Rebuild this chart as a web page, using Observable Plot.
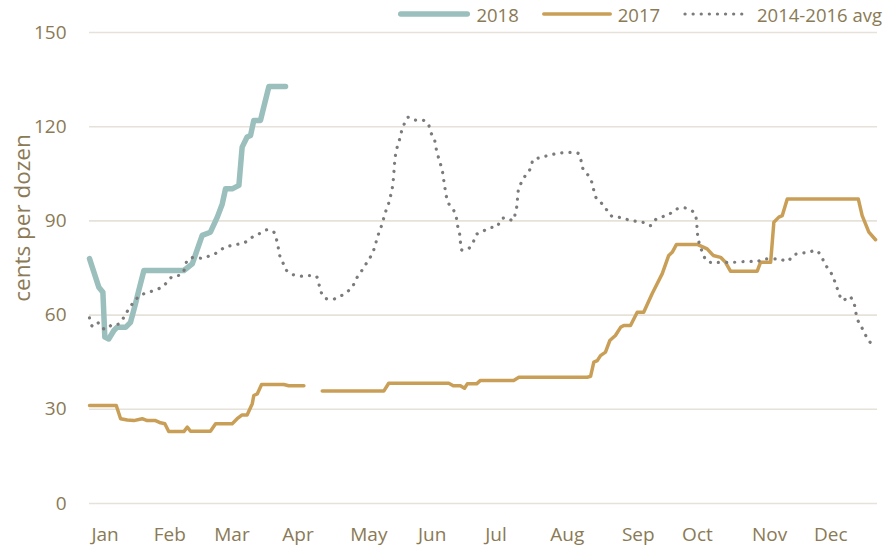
<!DOCTYPE html>
<html>
<head>
<meta charset="utf-8">
<script src="https://cdn.jsdelivr.net/npm/d3@7"></script>
<script src="https://cdn.jsdelivr.net/npm/@observablehq/plot@0.6"></script>
<style>
  html, body { margin: 0; padding: 0; background: #fff; }
  #wrap { width: 885px; font-family: "Open Sans", sans-serif; color: #8a7a55; }
  #legend { height: 28px; display: flex; justify-content: flex-end; align-items: center; padding-right: 3px; font-size: 18.5px; position: relative; z-index: 1; }
  .item { display: flex; align-items: center; margin-left: 23px; }
  .item svg { margin-right: 6px; }
  #chart svg { overflow: visible; }
</style>
</head>
<body>
<div id="wrap">
  <div id="legend"></div>
  <div id="chart"></div>
</div>
<script>
// ---- data (day of year, cents per dozen) ----
const months = ["Jan","Feb","Mar","Apr","May","Jun","Jul","Aug","Sep","Oct","Nov","Dec"];
const monthTickDays = [7.2, 37.2, 66.0, 96.6, 129.4, 158.7, 188.3, 221.3, 254.2, 281.6, 315.0, 343.4];
const yTicks = [0, 30, 60, 90, 120, 150];

const seriesNames = ["2018", "2017", "2014-2016 avg"];

const day2018 = [0, 4.3, 6.2, 7.1, 8.9, 11.3, 12.8, 16.7, 19.0, 21.3, 22.8, 25.2, 43.7, 47.6, 52.2, 56.0, 59.2, 61.5, 63.0, 66.1, 69.2, 70.7, 73.0, 74.6, 76.1, 79.2, 80.7, 83.1, 90.8];
const val2018 = [78, 68.9, 67.3, 53, 52.4, 55.1, 56.1, 56.1, 57.7, 63.6, 67.8, 74.2, 74.2, 76.3, 85.4, 86.4, 91.2, 95.4, 100.2, 100.2, 101.3, 113.5, 116.7, 117.2, 122, 122, 126.2, 132.8, 132.8];

const day2017 = [0, 12.4, 14.4, 17.5, 20.5, 24.4, 26.7, 30.6, 32.9, 34.9, 36.7, 43.7, 45.3, 46.8, 56.0, 58.4, 66.1, 68.4, 70.7, 73.0, 75.4, 76.1, 77.7, 79.7, 90.0, 92.3, 99.3,
  103.5,
  107.8, 136.3, 138.6, 166.4, 168.5, 171.8, 173.7, 175.0, 179.3, 181.1, 196.5, 198.9, 230.5, 232.1, 233.6, 235.2, 236.7, 239.0, 241.0, 243.6, 246.0, 247.5, 250.6, 253.7, 256.7, 260.6, 265.3, 268.3, 269.9, 271.9, 281.5, 286.1, 288.9, 292.3, 294.6, 296.9, 309.3, 310.8, 315.5, 317.0, 319.3, 320.9, 323.2, 356.1, 357.9, 361.0, 364.1];
const val2017 = [31.2, 31.2, 27.0, 26.6, 26.4, 27, 26.4, 26.4, 25.7, 25.4, 22.9, 22.9, 24.3, 23, 23, 25.4, 25.4, 27, 28.2, 28.2, 31.8, 34.4, 34.9, 37.9, 37.9, 37.5, 37.5,
  null,
  35.8, 35.8, 38.3, 38.3, 37.5, 37.5, 36.7, 38.1, 38.1, 39.2, 39.2, 40.2, 40.2, 40.5, 45, 45.5, 47.1, 48.2, 51.9, 53.5, 56.1, 56.7, 56.7, 60.9, 60.9, 66.8, 73.2, 79, 80, 82.5, 82.5, 81.1, 79, 78.4, 76.8, 74, 74, 76.8, 76.8, 89.6, 91.2, 91.7, 97, 97, 91.7, 86.4, 84];

const dayAvg = [0, 1.3, 3.6, 5.4, 7.9, 10.5, 13.6, 16.4, 18.2, 20.5, 22.8, 25.9, 29.8, 33.4, 36.0, 38.6, 42.2, 44.1, 45.3, 48.3, 52.2, 56.0, 59.4, 62.7, 66.1, 69.5, 72.7, 75.8, 79.2, 82.3, 85.4, 86.6, 87.4, 88.1, 89.7, 91.3, 94.2, 98.1, 101.6, 105.0, 106.2, 107.3, 108.9, 112.4, 115.8, 118.9, 121.7, 123.2, 125.5, 127.5, 129.6, 131.4, 132.5, 133.5, 134.9, 136.0, 137.1, 138.4, 139.4, 140.2, 140.7, 141.0, 141.3, 141.7, 142.5, 143.6, 144.5, 145.8, 147.6, 150.7, 154.4, 156.9, 157.9, 159.7, 160.4, 161.3, 162.4, 163.4, 164.0, 164.6, 165.2, 166.3, 168.6, 169.9, 170.5, 171.4, 171.8, 172.3, 175.4, 177.7, 179.1, 182.0, 185.4, 188.8, 190.5, 193.5, 196.1, 197.3, 198.1, 198.3, 198.9, 200.6, 202.4, 204.6, 205.5, 208.6, 212.3, 216.0, 219.7, 223.6, 226.6, 227.8, 228.7, 231.0, 232.8, 233.6, 234.8, 237.5, 239.8, 242.1, 245.6, 249.3, 252.9, 256.5, 259.9, 262.2, 265.3, 268.3, 271.1, 274.8, 278.1, 280.4, 281.2, 281.5, 281.9, 283.0, 284.3, 286.1, 290.0, 297.7, 305.4, 309.3, 312.3, 319.7, 323.5, 325.8, 329.3, 333.2, 336.6, 339.2, 340.7, 342.9, 344.5, 345.9, 347.1, 348.9, 351.9, 354.0, 354.8, 355.6, 357.4, 359.1, 360.9, 363.6];
const valAvg = [59.1, 56.5, 57.7, 56.1, 55.5, 57, 57.2, 59.9, 62, 64.1, 65.9, 67, 67.8, 68.9, 70.5, 72.4, 72.8, 74.7, 77.4, 78.4, 78.1, 79, 80, 81.6, 82.2, 82.7, 83.4, 85, 86.1, 87.2, 86.4, 84.1, 81.6, 79, 76.5, 74.2, 72.9, 72.4, 72.6, 72.4, 70, 67.3, 65.5, 65, 65.9, 67.2, 68.9, 71.2, 73.5, 75.7, 77.9, 80.3, 82.7, 85.1, 87.7, 90.2, 92.8, 95.2, 97.8, 100.3, 102.9, 105.5, 108.2, 110.8, 113.4, 115.9, 118.4, 120.9, 123, 122.1, 122.1, 120.8, 118.4, 116.1, 113.6, 111, 108.5, 106, 103.3, 100.7, 98.1, 95.6, 93.5, 91.1, 88.5, 86, 83.3, 80.8, 81.1, 83.2, 85.6, 86.6, 87.8, 88.2, 90.5, 91, 90.1, 92.7, 95.3, 97.9, 100.5, 102.9, 105, 107, 109.5, 110.1, 110.8, 111.4, 111.7, 111.8, 111.4, 108.9, 106.4, 104.5, 102.1, 99.7, 97.2, 95.4, 93.3, 91.4, 91.1, 90.4, 89.9, 89.5, 88.5, 90.4, 91.3, 92, 93.5, 94.2, 93.6, 92.3, 89.6, 86.9, 84.3, 81.7, 79.3, 77.1, 76.8, 76.8, 77.1, 77.1, 77.8, 77.8, 77.2, 79, 79.7, 80, 80.6, 78.4, 76.1, 74.2, 71.9, 69.4, 67, 64.6, 66, 63.9, 61.5, 58.8, 56.5, 54.1, 51.9, 50];

// ---- styles ----
const C2018 = "#9bbfbc", C2017 = "#c99f58", CAVG = "#7b7b7b", GRID = "#e6e2d9", TEXT = "#8a7a55";

const toRows = (days, vals) => days.map((d, i) => ({day: d, value: vals[i]}));
const rows2018 = toRows(day2018, val2018);
const rows2017 = toRows(day2017, val2017);
const rowsAvg = toRows(dayAvg, valAvg);

// ---- legend ----
const legendSpecs = [
  {name: seriesNames[0], stroke: C2018, width: 5.5, dash: null, len: 72},
  {name: seriesNames[1], stroke: C2017, width: 3.5, dash: null, len: 70},
  {name: seriesNames[2], stroke: CAVG, width: 3.2, dash: "0.1,8", len: 68}
];
const legend = document.getElementById("legend");
legendSpecs.forEach((s, i) => {
  const item = document.createElement("div");
  item.className = "item";
  if (i === 0) item.style.marginLeft = "0";
  const ns = "http://www.w3.org/2000/svg";
  const svg = document.createElementNS(ns, "svg");
  svg.setAttribute("width", s.len);
  svg.setAttribute("height", 10);
  const ln = document.createElementNS(ns, "line");
  ln.setAttribute("x1", s.dash ? 2 : s.width / 2);
  ln.setAttribute("x2", s.len - (s.dash ? 2 : s.width / 2));
  ln.setAttribute("y1", 5); ln.setAttribute("y2", 5);
  ln.setAttribute("stroke", s.stroke);
  ln.setAttribute("stroke-width", s.width);
  ln.setAttribute("stroke-linecap", "round");
  if (s.dash) ln.setAttribute("stroke-dasharray", s.dash);
  svg.appendChild(ln);
  const t = document.createElement("span");
  t.textContent = s.name;
  item.appendChild(svg);
  item.appendChild(t);
  legend.appendChild(item);
});

// ---- chart ----
const chart = Plot.plot({
  width: 885,
  height: 521,
  marginTop: 4,
  marginBottom: 46,
  marginLeft: 89,
  marginRight: 8,
  style: {fontFamily: "Open Sans, sans-serif", fontSize: "19px", color: TEXT, background: "transparent", overflow: "visible"},
  x: {
    domain: [0, 365],
    ticks: monthTickDays,
    tickFormat: d => months[monthTickDays.indexOf(d)],
    tickSize: 0,
    tickPadding: 24,
    label: null
  },
  y: {
    domain: [0, 150],
    ticks: yTicks,
    tickSize: 0,
    tickPadding: 23,
    label: null
  },
  marks: [
    Plot.ruleY(yTicks, {stroke: GRID, strokeWidth: 1.6}),
    Plot.line(rows2018, {x: "day", y: "value", stroke: C2018, strokeWidth: 5.5, strokeLinejoin: "round", strokeLinecap: "round"}),
    Plot.line(rows2017, {x: "day", y: "value", stroke: C2017, strokeWidth: 3.5, strokeLinejoin: "round"}),
    Plot.line(rowsAvg, {x: "day", y: "value", stroke: CAVG, strokeWidth: 3.2, strokeDasharray: "0.1,8", strokeLinecap: "round", curve: "catmull-rom"}),
    Plot.text(["cents per dozen"], {frameAnchor: "left", textAnchor: "middle", rotate: -90, dx: -67, dy: -50, fontSize: 22.5, fill: TEXT, text: d => d})
  ]
});
chart.style.overflow = "visible";
document.getElementById("chart").appendChild(chart);
</script>
</body>
</html>
